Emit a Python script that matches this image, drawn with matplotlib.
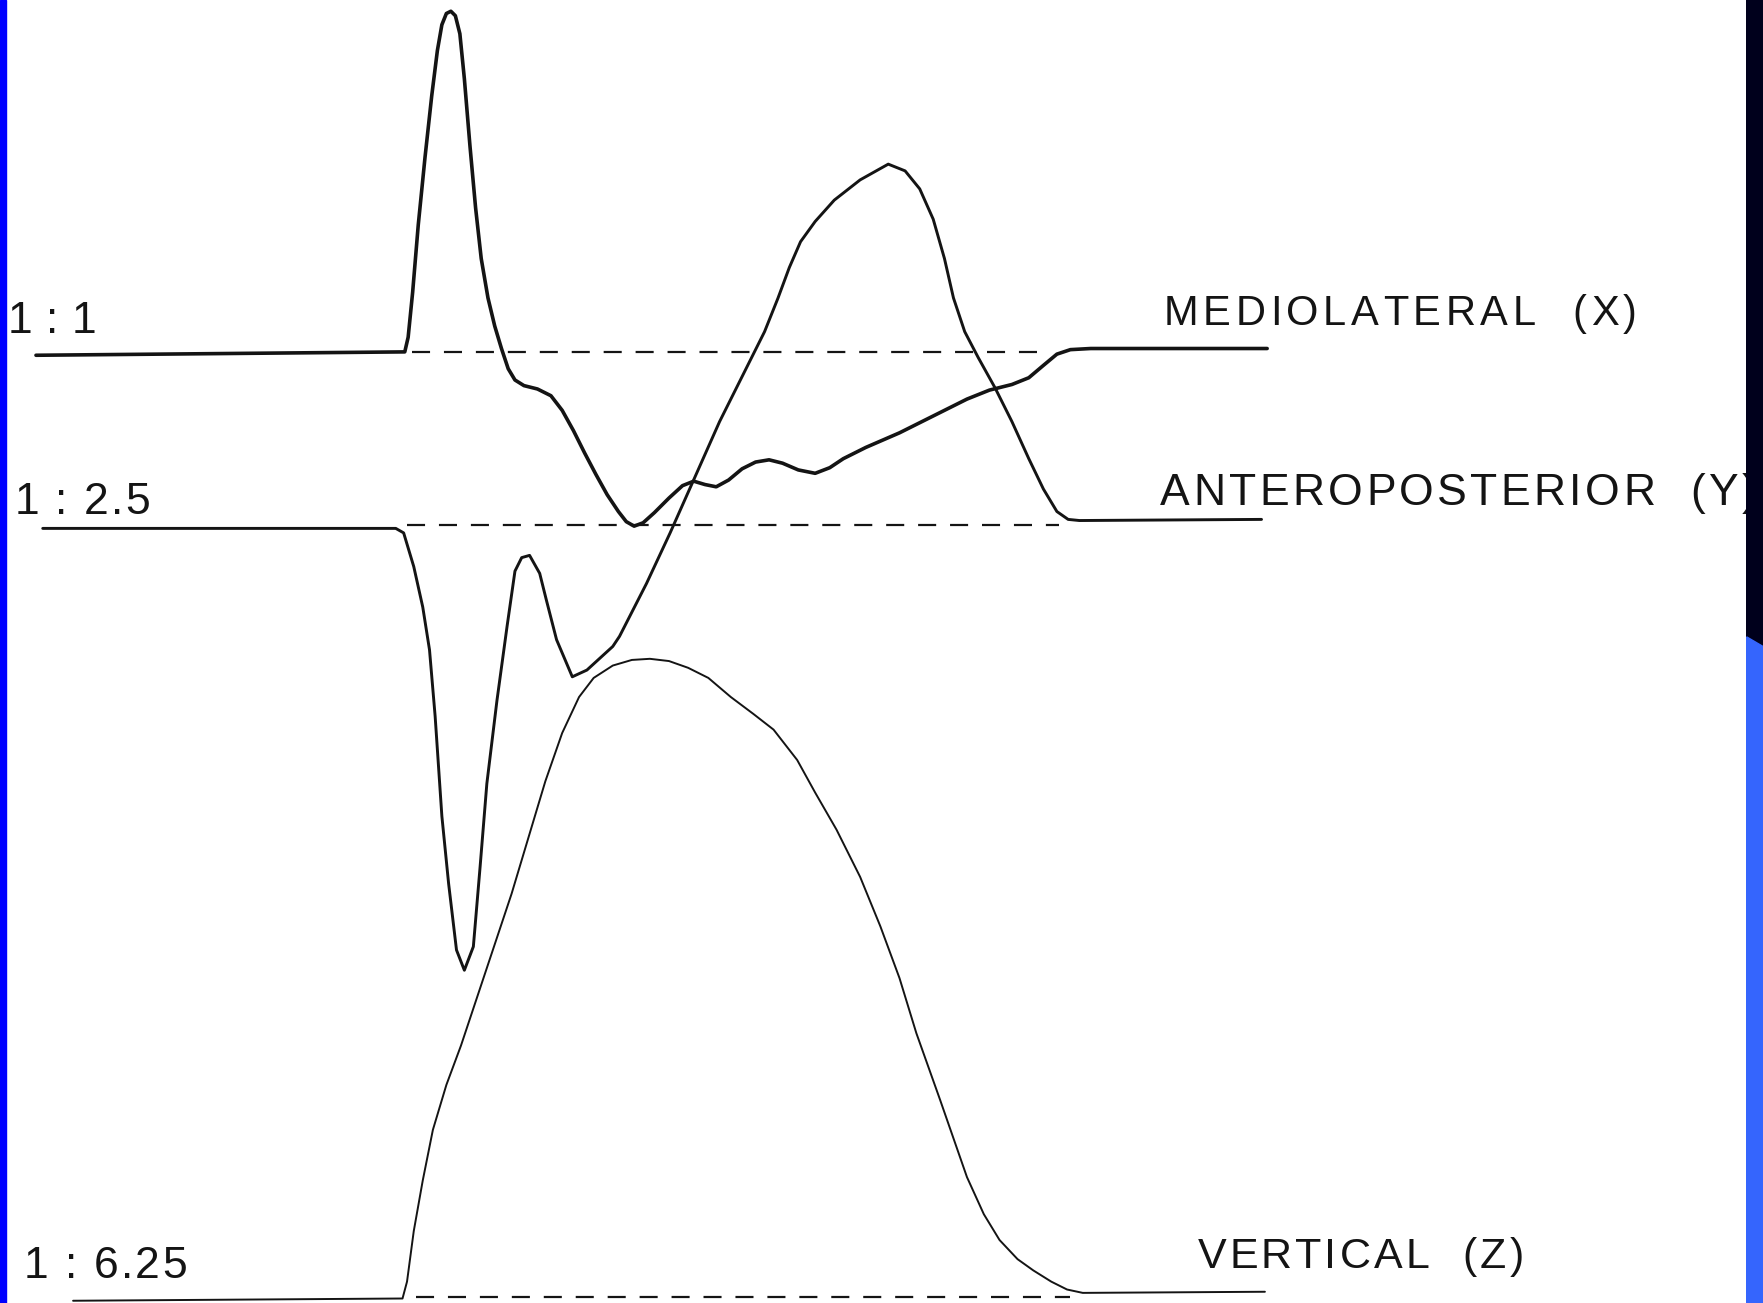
import numpy as np
import matplotlib.pyplot as plt
from matplotlib.patches import Rectangle, Polygon

ml_time = [32, 360, 363, 367, 372, 378, 384, 389, 393, 397, 401, 405, 409, 413, 418,
           423, 428, 434, 440, 446, 452, 458, 466, 478, 490, 500, 510, 520, 530, 540,
           550, 557, 564, 572, 582, 595, 607, 617, 627, 637, 648, 660, 672, 684, 696,
           710, 725, 738, 750, 770, 800, 830, 860, 880, 900, 915, 928, 940, 952, 970, 1127]
ml_force = [-3, 0, 13, 53, 113, 173, 228, 268, 291, 301, 303, 299, 283, 243, 183,
            128, 83, 48, 23, 3, -15, -25, -30, -33, -39, -52, -70, -90, -109, -127,
            -142, -151, -155, -152, -143, -130, -119, -115, -118, -120, -114, -104, -98, -96, -99,
            -105, -108, -103, -95, -85, -72, -57, -42, -34, -29, -23, -12, -2, 2, 3, 3]

ap_time = [38, 340, 352, 359, 368, 376, 382, 387, 393, 399, 406, 413, 421, 427, 433,
           442, 451, 458, 464, 471, 480, 486, 495, 509, 522, 545, 551, 575, 596, 620,
           640, 660, 680, 692, 702, 712, 725, 742, 765, 790, 805, 818, 830, 840, 848, 858,
           870, 885, 900, 915, 928, 940, 950, 960, 1122]
ap_force = [0, 0, 0, -4, -34, -70, -108, -167, -256, -316, -375, -393, -372, -301, -227,
            -153, -87, -38, -26, -24, -40, -64, -99, -132, -126, -105, -96, -49, -4, 50,
            95, 135, 175, 205, 232, 255, 273, 292, 310, 324, 318, 302, 275, 240, 205, 175,
            152, 125, 95, 62, 35, 15, 8, 7, 8]

vt_time = [65, 358, 362, 368, 376, 385, 397, 410, 425, 440, 455, 470, 485, 500, 515,
           528, 545, 562, 578, 595, 612, 630, 650, 670, 688, 709, 725, 744, 765, 783,
           800, 815, 836, 860, 875, 889, 905, 919, 935, 949, 963, 1125]
vt_force = [-2, 0, 15, 60, 105, 150, 190, 225, 270, 315, 360, 410, 460, 503, 535,
            552, 563, 568, 569, 567, 561, 552, 535, 520, 506, 479, 450, 417, 375, 331,
            285, 236, 177, 108, 75, 52, 35, 25, 15, 8, 5, 6]

scale_labels = ['1 : 1', '1 : 2.5', '1 : 6.25']
trace_names = ['MEDIOLATERAL  (X)', 'ANTEROPOSTERIOR  (Y)', 'VERTICAL  (Z)']

# ---- layout ----
W, H = 1568, 1159
baselines = [313, 470, 1155]
dash_spans = [(366, 930), (362, 942), (370, 952)]
dash_levels = [313, 467, 1154]
widths = [2.6, 2.1, 1.4]
ink = '#141414'

fig = plt.figure(figsize=(17.63, 13.03), dpi=100)
ax = fig.add_axes([0, 0, 1, 1])
ax.set_xlim(0, W)
ax.set_ylim(H, 0)
ax.axis('off')

traces = [(ml_time, ml_force), (ap_time, ap_force), (vt_time, vt_force)]
for (t, f), base, lw in zip(traces, baselines, widths):
    ax.plot(t, base - np.array(f), color=ink, lw=lw, solid_joinstyle='round',
            solid_capstyle='round')

plt.rcParams['lines.scale_dashes'] = False
for (x0, x1), lvl in zip(dash_spans, dash_levels):
    ax.plot([x0, x1], [lvl, lvl], color=ink, lw=1.6, dashes=(13, 10))

fig.canvas.draw()
renderer = fig.canvas.get_renderer()
px_per_unit = fig.bbox.width / W


def tracked(s, x0, x1, y, size):
    """Draw text with letter spacing stretched to span x0..x1."""
    props = dict(fontsize=size, family=['Liberation Sans', 'DejaVu Sans'], color=ink)
    adv = []
    for ch in s:
        if ch == ' ':
            adv.append(0.28 * size * 100 / 72 / px_per_unit)
            continue
        tmp = ax.text(0, 0, ch, **props)
        adv.append(tmp.get_window_extent(renderer).width / px_per_unit)
        tmp.remove()
    gap = (x1 - x0 - sum(adv)) / max(len(s) - 1, 1)
    x = x0
    for ch, a in zip(s, adv):
        if ch != ' ':
            ax.text(x, y, ch, va='baseline', ha='left', **props)
        x += a + gap


tracked(scale_labels[0], 7, 86, 296, 32)
tracked(scale_labels[1], 13, 133, 457, 32)
tracked(scale_labels[2], 21, 166, 1137, 32)

tracked(trace_names[0], 1035, 1456, 289, 30)
tracked(trace_names[1], 1032, 1562, 449, 32)
tracked(trace_names[2], 1065, 1355, 1128, 31)

# scan frame: blue strip on the left, dark/blue band on the right
ax.add_patch(Rectangle((0, 0), 5.5, H, color='#0000ff', zorder=5))
ax.add_patch(Polygon([(1553.5, 0), (W, 0), (W, 575), (1553.5, 566.5)],
                     closed=True, color='#00001c', zorder=5))
ax.add_patch(Polygon([(1553.5, 566.5), (W, 575), (W, H), (1553.5, H)],
                     closed=True, color='#3565fd', zorder=5))

fig.savefig('out.png', dpi=100)
